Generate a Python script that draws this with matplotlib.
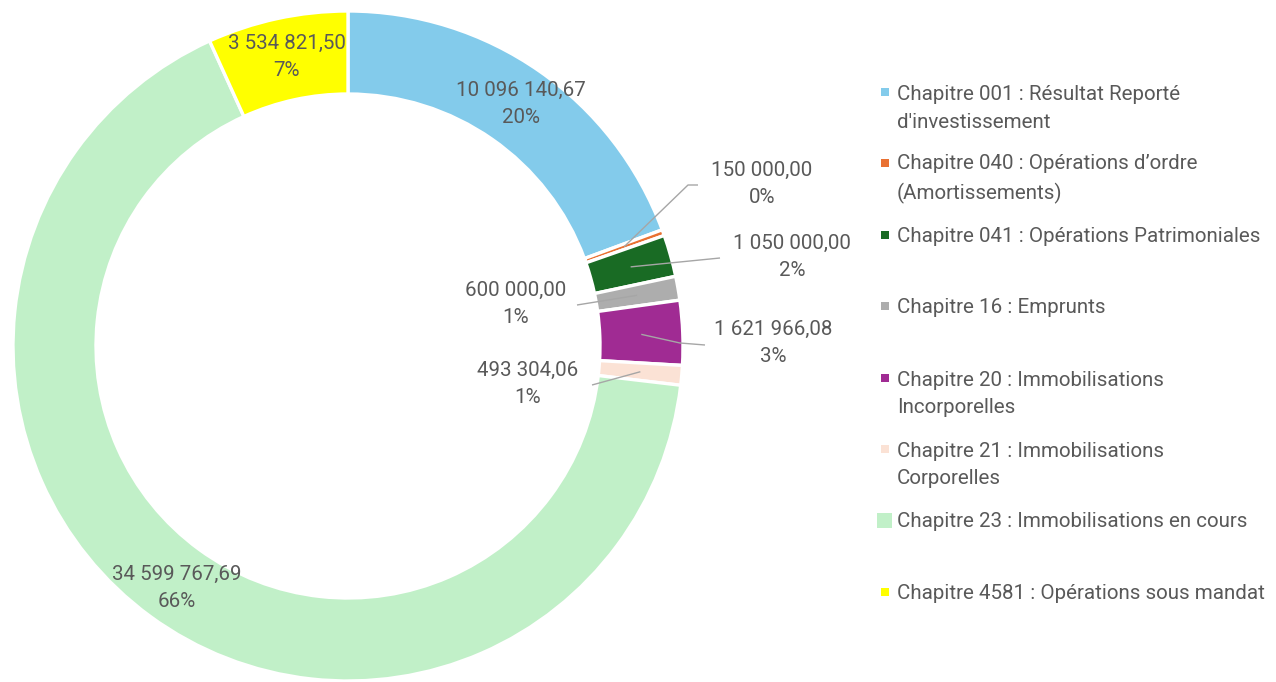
import numpy as np
import matplotlib
matplotlib.use("Agg")
import matplotlib.pyplot as plt
from matplotlib.patches import Rectangle

categories = [
    "Chapitre 001 : Résultat Reporté\nd'investissement",
    "Chapitre 040 : Opérations d’ordre\n(Amortissements)",
    "Chapitre 041 : Opérations Patrimoniales",
    "Chapitre 16 : Emprunts",
    "Chapitre 20 : Immobilisations\nIncorporelles",
    "Chapitre 21 : Immobilisations\nCorporelles",
    "Chapitre 23 : Immobilisations en cours",
    "Chapitre 4581 : Opérations sous mandat",
]
values = [10096140.67, 150000.00, 1050000.00, 600000.00,
          1621966.08, 493304.06, 34599767.69, 3534821.50]
value_labels = ["10 096 140,67", "150 000,00", "1 050 000,00", "600 000,00",
                "1 621 966,08", "493 304,06", "34 599 767,69", "3 534 821,50"]
pct_labels = ["20%", "0%", "2%", "1%", "3%", "1%", "66%", "7%"]
colors = ["#83CBEB", "#E97132", "#196B24", "#ADADAD",
          "#A02B93", "#FBE2D5", "#C1F0C8", "#FFFF00"]

W, H = 1276, 682
fig = plt.figure(figsize=(W / 100, H / 100), dpi=100)
ax = fig.add_axes([0, 0, 1, 1])
ax.set_xlim(0, W)
ax.set_ylim(0, H)
ax.set_aspect("equal")
ax.axis("off")

FONT = "Roboto"
TXT = "#595959"
FS = 14.8
LS = 1.57
LINE_PX = 28.5
cx, cy = 348, H - 346
R, width = 335, 83

wedges, _ = ax.pie(values, colors=colors, startangle=90, counterclock=False,
                   radius=R, center=(cx, cy),
                   wedgeprops=dict(width=width, edgecolor="white", linewidth=2.4))
ax.set_xlim(0, W)
ax.set_ylim(0, H)

rmid = R - width / 2
# inside label offsets (dx, dy in px, y downwards)
inside = {0: (5, -1), 6: (2, 5), 7: (1, -2)}
# outside labels: text center (px), leader waypoints (px, from text side)
outside = {
    1: ((762, 184), [(698, 185), (688, 185)]),
    2: ((792, 257), [(720, 258)]),
    3: ((516, 304), [(577, 305)]),
    4: ((773, 343), [(705, 345), (680, 343)]),
    5: ((528, 384), [(592, 385)]),
}
for i, w in enumerate(wedges):
    th = np.deg2rad((w.theta1 + w.theta2) / 2)
    px, py = cx + rmid * np.cos(th), cy + rmid * np.sin(th)
    txt = value_labels[i] + "\n" + pct_labels[i]
    if i in inside:
        dx, dy = inside[i]
        ax.text(px + dx, py - dy, txt, ha="center", va="center",
                fontsize=FS, family=FONT, color=TXT, linespacing=LS)
    else:
        (tx, ty), pts = outside[i]
        xs = [px] + [p[0] for p in pts][::-1]
        ys = [py] + [H - p[1] for p in pts][::-1]
        ax.plot(xs, ys, color="#A6A6A6", lw=1.0, solid_capstyle="butt")
        ax.text(tx, H - ty, txt, ha="center", va="center",
                fontsize=FS, family=FONT, color=TXT, linespacing=LS)

# legend
leg_top = 92
step = 71.4
for i, (lab, col) in enumerate(zip(categories, colors)):
    y = leg_top + i * step
    n = lab.count("\n")
    if i == 6:
        ax.add_patch(Rectangle((877, H - y - 8), 15, 15, color=col, lw=0))
    else:
        ax.add_patch(Rectangle((881, H - y - 4), 8, 8, color=col, lw=0))
    ax.text(897, H - y - 7 - n * LINE_PX, lab, ha="left", va="baseline",
            fontsize=FS, family=FONT, color=TXT, linespacing=LS)

fig.savefig("out.png", dpi=100)
